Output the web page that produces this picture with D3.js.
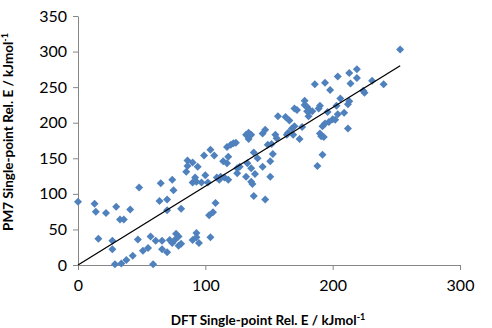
<!DOCTYPE html>
<html lang="en">

<head>
  <meta charset="UTF-8">
  <title>PM7 vs DFT</title>
  <script src="https://d3js.org/d3.v7.min.js"></script>
  <style>
    body {
      margin: 0;
      background: #fff;
    }

    .tick-label {
      font-family: Lato, "Open Sans", sans-serif;
      font-size: 16px;
      fill: #000;
    }

    .axis-title {
      font-family: Lato, "Open Sans", sans-serif;
      font-size: 13.5px;
      font-weight: bold;
      fill: #000;
    }
  </style>
</head>

<body>
  <div id="chart"></div>
  <script>
    // values (kJ/mol)
    const dftEnergy = [
      0, 13, 14, 22, 16, 27, 27, 30, 33, 36, 41, 29, 34, 38, 43,
      48, 47, 51, 55, 57, 59, 61, 66, 66, 70, 64, 65, 70, 70, 74, 75,
      72, 74, 76, 79, 81, 79, 77, 81, 85, 86, 90, 94, 92, 90, 93, 97, 100, 102, 86,
      90, 93, 93, 95, 104, 103, 106, 108, 99, 104, 107, 111, 114, 115, 118, 118, 117,
      117, 120, 122, 124, 125, 125, 132, 134, 136, 134, 147, 145, 149, 132, 133, 136,
      137, 136, 139, 138, 138, 141, 145, 147, 151, 151, 153, 109, 112, 155, 156, 152,
      157, 163, 166, 170, 168, 176, 165, 164, 169, 174, 172, 170, 178, 178, 180, 180,
      182, 184, 181, 186, 190, 189, 196, 194, 198, 204, 206, 203, 209, 204, 200, 202,
      197, 194, 192, 212, 190, 191, 193, 188, 192, 213, 219, 219, 214, 212, 213, 224,
      225, 231, 240, 253, 127
    ];
    const pm7Energy = [
      89, 86, 75, 73, 37, 34, 22, 82, 64, 64, 78, 1, 2, 7, 13,
      109, 36, 20, 24, 40, 1, 34, 34, 22, 18, 90, 115, 92, 77, 120, 105,
      35, 31, 35, 40, 30, 27, 44, 79, 131, 147, 144, 138, 123, 116, 117, 116, 126, 116, 139,
      35, 45, 39, 31, 39, 70, 74, 87, 154, 162, 154, 120, 146, 123, 120, 152, 143,
      166, 169, 171, 172, 129, 136, 183, 186, 183, 177, 190, 185, 169, 124, 143, 136,
      114, 117, 128, 97, 158, 150, 138, 92, 124, 146, 156, 123, 124, 183, 178, 170,
      209, 208, 203, 195, 192, 194, 186, 183, 183, 177, 218, 220, 231, 225, 222, 216,
      217, 216, 209, 254, 224, 220, 215, 256, 246, 265, 234, 224, 214, 212, 205, 204,
      201, 199, 195, 192, 185, 181, 180, 139, 155, 270, 275, 263, 255, 226, 230, 245,
      242, 259, 254, 303, 138
    ];
    const points = dftEnergy.map((x, i) => ({ x: x, y: pm7Energy[i] }));

    // linear trendline as drawn in the picture
    const trendX = [0, 253];
    const trendY = [0, 280];

    const xTicks = [0, 100, 200, 300];
    const yTicks = [0, 50, 100, 150, 200, 250, 300, 350];

    const width = 492;
    const height = 328;
    const axisColor = "#868686";

    const svg = d3.select("#chart").append("svg")
      .attr("width", width)
      .attr("height", height);

    const x = d3.scaleLinear().domain([0, 300]).range([78, 460]);
    const y = d3.scaleLinear().domain([0, 350]).range([265, 16]);

    // y axis
    const yAxis = svg.append("g")
      .attr("transform", `translate(${x(0)},0)`)
      .call(d3.axisLeft(y).tickValues(yTicks).tickSize(5).tickSizeOuter(0).tickPadding(6));
    yAxis.select(".domain").attr("stroke", axisColor);
    yAxis.selectAll(".tick line").attr("stroke", axisColor);
    yAxis.selectAll(".tick text").attr("class", "tick-label").attr("x", -11);

    // x axis
    const xAxis = svg.append("g")
      .attr("transform", `translate(0,${y(0)})`)
      .call(d3.axisBottom(x).tickValues(xTicks).tickSize(5).tickSizeOuter(0).tickPadding(10));
    xAxis.select(".domain").attr("stroke", axisColor);
    xAxis.selectAll(".tick line").attr("stroke", axisColor);
    xAxis.selectAll(".tick text").attr("class", "tick-label");

    // points, excel style diamonds
    const r = 4;
    const diamond = `M0,${-r}L${r},0L0,${r}L${-r},0Z`;
    svg.append("g")
      .selectAll("path")
      .data(points)
      .enter().append("path")
      .attr("d", diamond)
      .attr("transform", d => `translate(${x(d.x)},${y(d.y)})`)
      .attr("fill", "#4F81BD");

    // trendline
    svg.append("line")
      .attr("x1", x(trendX[0]))
      .attr("y1", y(trendY[0]))
      .attr("x2", x(trendX[1]))
      .attr("y2", y(trendY[1]))
      .attr("stroke", "#000")
      .attr("stroke-width", 1.3);

    // axis titles
    const xTitle = svg.append("text")
      .attr("class", "axis-title")
      .attr("x", 268)
      .attr("y", 325)
      .attr("text-anchor", "middle");
    xTitle.append("tspan").text("DFT Single-point Rel. E / kJmol");
    xTitle.append("tspan").attr("font-size", "9px").attr("dy", "-5").text("-1");

    const yTitle = svg.append("text")
      .attr("class", "axis-title")
      .attr("transform", "translate(13,132) rotate(-90)")
      .attr("text-anchor", "middle");
    yTitle.append("tspan").text("PM7 Single-point Rel. E / kJmol");
    yTitle.append("tspan").attr("font-size", "9px").attr("dy", "-5").text("-1");
  </script>
</body>

</html>
